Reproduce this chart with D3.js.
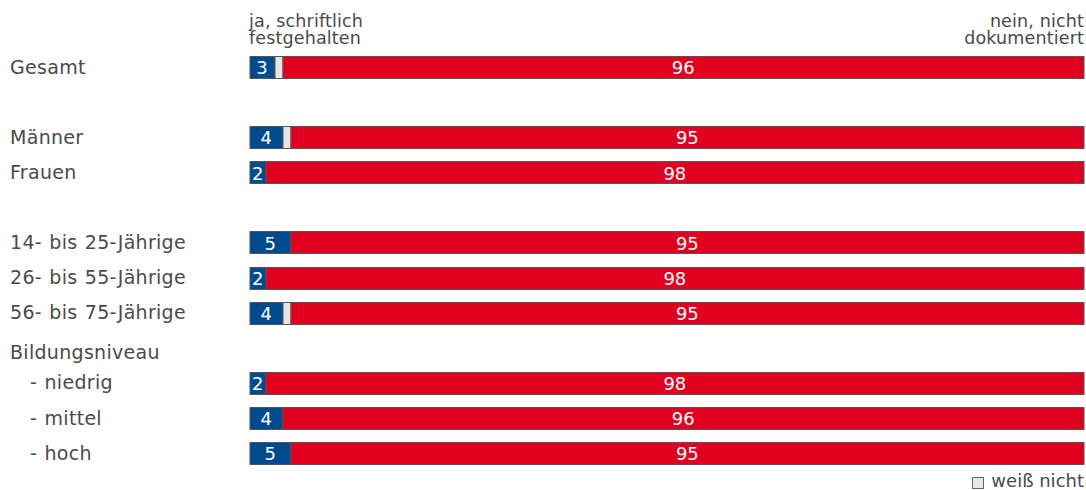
<!DOCTYPE html>
<html><head><meta charset="utf-8">
<script src="https://cdn.jsdelivr.net/npm/d3@7"></script>
<style>
body{margin:0;background:#fff;}
text{font-family:"DejaVu Sans",Verdana,sans-serif;}
</style></head>
<body><svg id="c" width="1086" height="490"></svg>
<script>
const categories = ["Gesamt","", "Männer","Frauen","", "14- bis 25-Jährige","26- bis 55-Jährige","56- bis 75-Jährige","Bildungsniveau","  - niedrig","  - mittel","  - hoch"];
const hasBar =     [true,false,true,true,false,true,true,true,false,true,true,true];
const jaValues =   [3,null,4,2,null,5,2,4,null,2,4,5];
const wnValues =   [1,null,1,0,null,0,0,1,null,0,0,0];
const neinValues = [96,null,95,98,null,95,98,95,null,98,96,95];
const seriesNames = ["ja, schriftlich festgehalten","weiß nicht","nein, nicht dokumentiert"];
const headerLeft = ["ja, schriftlich","festgehalten"];
const headerRight = ["nein, nicht","dokumentiert"];
const colors = ["#004b8d","#e6e6e6","#e1001f"];

const svg = d3.select("#c");
const ids = categories.map((d,i)=>i);
const y = d3.scalePoint().domain(ids).range([67,453]);
const x = d3.scaleLinear().domain([0,100]).range([249.5,1083.5]);
const barH = 22;
const textCol = "#4a4a4a";

// left labels
svg.append("g").selectAll("text").data(ids).join("text")
  .attr("x", i => categories[i].startsWith("  ") ? 30 : 10)
  .attr("y", i => y(i) + (hasBar[i] ? 0 : 5))
  .attr("dy","0.35em")
  .attr("font-size",19).attr("letter-spacing",0.3).attr("word-spacing",1).attr("fill",textCol)
  .text(i => categories[i].trim());

// bars
const rows = ids.filter(i=>hasBar[i]).map(i=>{
  const vals=[jaValues[i],wnValues[i],neinValues[i]];
  let acc=0; const segs=vals.map((v,k)=>{const s={row:i,k,v,x0:acc,x1:acc+v};acc+=v;return s;});
  return {i,segs};
});
const g = svg.append("g");
const rg = g.selectAll("g").data(rows).join("g");
rg.selectAll("rect").data(d=>d.segs.filter(s=>s.v>0)).join("rect")
  .attr("x",s=>Math.round(x(s.x0)))
  .attr("y",s=>Math.round(y(s.row)-barH/2)+0.5)
  .attr("width",s=>Math.round(x(s.x1))-Math.round(x(s.x0)))
  .attr("height",barH)
  .attr("fill",s=>colors[s.k])
  .attr("stroke","#555").attr("stroke-width",1);
rg.selectAll("text").data(d=>d.segs.filter(s=>s.k!==1 && s.v>0)).join("text")
  .attr("x",s=>(x(s.x0)+x(s.x1))/2)
  .attr("y",s=>y(s.row)+1)
  .attr("dy","0.35em").attr("text-anchor","middle")
  .attr("font-size",18).attr("fill","#fff")
  .text(s=>s.v);

// column headers
svg.append("g").selectAll("text").data(headerLeft).join("text")
  .attr("x",249).attr("y",(d,i)=>27+i*16.5)
  .attr("font-size",17.5).attr("letter-spacing",0.15).attr("fill",textCol).text(d=>d);
svg.append("g").selectAll("text").data(headerRight).join("text")
  .attr("x",1084).attr("y",(d,i)=>27+i*16.5).attr("text-anchor","end")
  .attr("font-size",17.5).attr("letter-spacing",0.15).attr("fill",textCol).text(d=>d);

// legend
svg.append("rect").attr("x",972.5).attr("y",477.5).attr("width",11).attr("height",11)
  .attr("fill",colors[1]).attr("stroke","#666");
svg.append("text").attr("x",1084).attr("y",487).attr("text-anchor","end")
  .attr("font-size",18).attr("fill",textCol).text(seriesNames[1]);
</script></body></html>
